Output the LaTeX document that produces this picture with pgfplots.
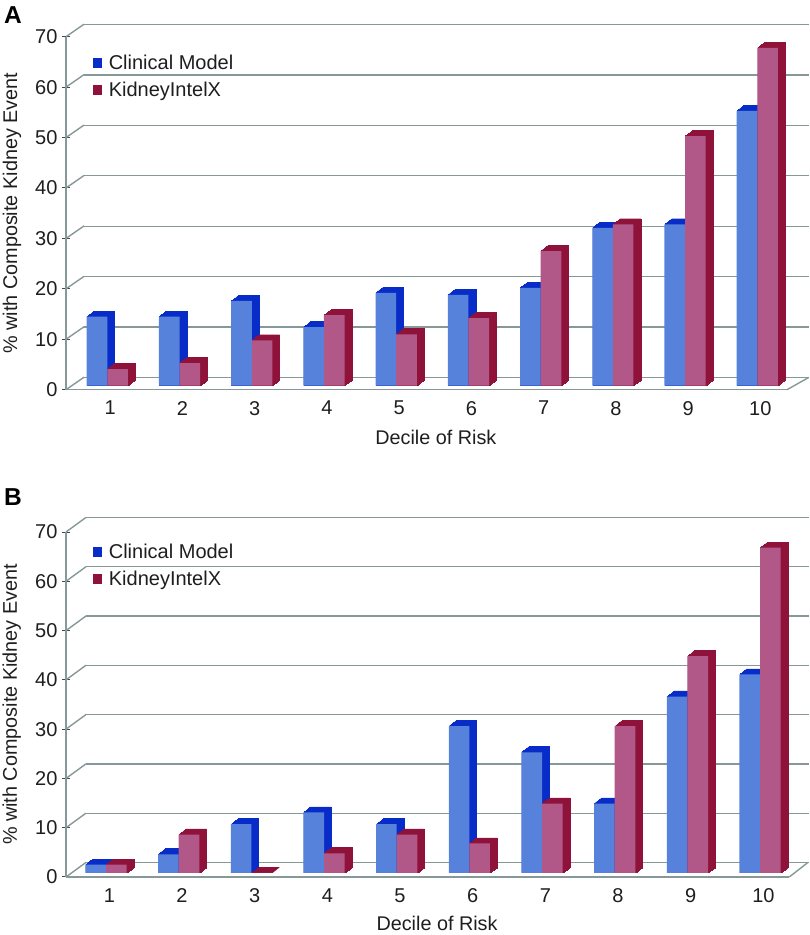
\documentclass[border=0pt]{standalone}
\usepackage{fontspec}
\setmainfont{Liberation Sans}
\usepackage{pgfplots}
\usepackage{pgfplotstable}
\pgfplotsset{compat=1.18}

\definecolor{blueface}{RGB}{86,130,220}
\definecolor{blueside}{RGB}{8,44,200}
\definecolor{redface}{RGB}{178,88,136}
\definecolor{redside}{RGB}{142,18,58}
\definecolor{gridgrey}{RGB}{135,152,152}
\definecolor{tickgrey}{RGB}{70,70,70}
\definecolor{ink}{RGB}{30,30,30}

% decile, clinical model, KidneyIntelX
\pgfplotstableread{
cat clin kid
1  13.7  3.3
2  13.7  4.5
3  16.8  9.0
4  11.6 14.0
5  18.4 10.2
6  18.0 13.4
7  19.4 26.7
8  31.3 32.0
9  32.0 49.5
10 54.5 67.0
}\tableA
\pgfplotstableread{
cat clin kid
1   1.7  1.7
2   3.8  7.8
3   9.9  0.0
4  12.3  4.0
5   9.9  7.8
6  29.8  6.0
7  24.5 14.1
8  14.1 29.8
9  35.8 44.0
10 40.3 66.0
}\tableB

\pgfplotsset{
    backwall/.style={
        scale only axis, clip=false,
        xmin=0, xmax=1, ymin=0, ymax=70,
        xtick=\empty, ytick={0,10,...,70}, yticklabels={},
        axis line style={draw=none}, tick style={draw=none},
        ymajorgrids, grid style={gridgrey, line width=1.4pt},
    },
    frontaxis/.style={
        scale only axis, clip=false, ybar,
        xmin=0.5, ymin=0, ymax=70,
        axis lines=left, axis line style={-, gridgrey, line width=1.4pt},
        xtick={1,...,10}, ytick={0,10,...,70},
        x tick style={draw=none},
        y tick style={tickgrey, line width=1pt},
        major tick length=8pt,
        /pgf/number format/assume math mode=true,
        tick label style={font=\fontsize{20}{22}\selectfont, text=ink},
        x tick label style={yshift=-4pt},
        y tick label style={xshift=-1pt},
        xlabel={Decile of Risk}, ylabel={\% with Composite Kidney Event},
        every axis x label/.style={at={(axis description cs:0.513,-0.134)}, anchor=center,
            font=\fontsize{19.8}{22}\selectfont, text=ink},
        every axis y label/.style={at={(axis description cs:-0.075,0.5)}, rotate=90, anchor=center,
            font=\fontsize{19.8}{22}\selectfont, text=ink},
        legend style={
            anchor=north west,
            draw=none, fill=none, inner sep=0pt, row sep=7pt,
            font=\fontsize{20}{22}\selectfont, text=ink,
        },
        legend cell align=left,
    },
}

% one series: side and top faces from shifted copies, then the front face
% #1 table, #2 column, #3 bar shift, #4 front colour, #5 side colour, #6 xshift of the bars
\newcommand{\bars}[6]{%
    \pgfplotsinvokeforeach{1,...,14}{
        \addplot[fill=#5, draw=#5, line width=0.4pt, bar width=20.6pt, bar shift=#3, forget plot,
            xshift=#6+##1*0.52pt, yshift=4pt+##1*0.4pt] table[x=cat, y=#2] {#1};
    }
    \addplot[fill=#4, draw=none, bar width=20.6pt, bar shift=#3, forget plot,
        xshift=#6, yshift=4pt] table[x=cat, y=#2] {#1};
}
% slanted joins between the front axis and the back wall
\newcommand{\joins}[2]{%
    \pgfplotsinvokeforeach{0,10,...,70}{
        \draw[gridgrey, line width=1.4pt] (axis cs:0.5,##1) -- (axis cs:0.5+#1,##1+#2);
    }
}
% the empty path widens the key so the text starts further right
\newcommand{\legendkeys}{%
    \addlegendimage{legend image code/.code={\fill[blueside] (0pt,-4.5pt) rectangle (8.5pt,4.5pt); \path (13.5pt,0pt);}}
    \addlegendentry{Clinical Model}
    \addlegendimage{legend image code/.code={\fill[redside] (0pt,-4.5pt) rectangle (8.5pt,4.5pt); \path (13.5pt,0pt);}}
    \addlegendentry{KidneyIntelX}
}

\begin{document}
\begin{tikzpicture}
\useasboundingbox (0,0) rectangle (810pt,935pt);

% panel A
\node[anchor=base west, inner sep=0pt, font=\fontsize{24.5}{28}\selectfont\bfseries, text=black] at (4pt,911.5pt) {A};
\begin{axis}[backwall, at={(84pt,557.5pt)}, anchor=south west, width=725pt, height=353pt]
\end{axis}
\begin{axis}[frontaxis, at={(66pt,545.3pt)}, anchor=south west, width=721pt, height=353pt,
    xmax=10.483, x tick label style={xshift=8.2pt},
    legend style={at={(axis description cs:0.037,0.955)}}]
    \joins{0.25}{2.48}
    \draw[gridgrey, line width=1.4pt] (axis cs:10.483,0) -- (axis cs:10.783,2.42);
    \bars{\tableA}{clin}{-10.3pt}{blueface}{blueside}{5.2pt}
    \bars{\tableA}{kid}{10.3pt}{redface}{redside}{5.2pt}
    \legendkeys
\end{axis}

% panel B
\node[anchor=base west, inner sep=0pt, font=\fontsize{24.5}{28}\selectfont\bfseries, text=black] at (4pt,429pt) {B};
\begin{axis}[backwall, at={(86pt,72.5pt)}, anchor=south west, width=722.5pt, height=345pt]
\end{axis}
\begin{axis}[frontaxis, at={(66pt,58pt)}, anchor=south west, width=723.3pt, height=345pt,
    xmax=10.453, x tick label style={xshift=7pt},
    legend style={at={(axis description cs:0.037,0.9725)}}]
    \joins{0.275}{2.96}
    \draw[gridgrey, line width=1.4pt] (axis cs:10.453,0) -- (axis cs:10.71,2.96);
    \bars{\tableB}{clin}{-10.3pt}{blueface}{blueside}{3.7pt}
    \bars{\tableB}{kid}{10.3pt}{redface}{redside}{3.7pt}
    \legendkeys
\end{axis}
\end{tikzpicture}
\end{document}
